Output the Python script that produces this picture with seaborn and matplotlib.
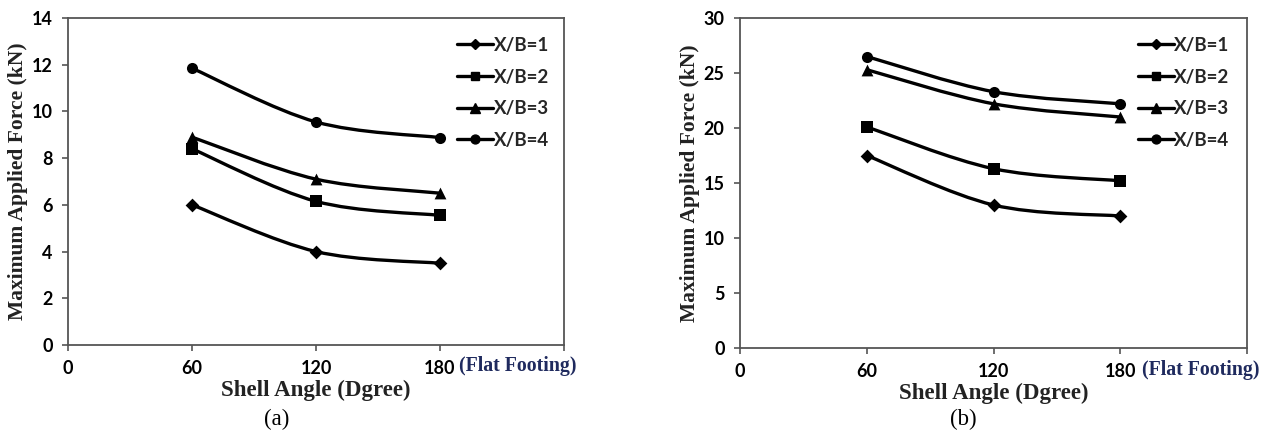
import numpy as np
import pandas as pd
import matplotlib
matplotlib.use("Agg")
import matplotlib.pyplot as plt
from matplotlib.path import Path
from matplotlib.patches import PathPatch
from matplotlib.lines import Line2D
import seaborn as sns

# ---- data ----
angles = [60, 120, 180]
series = ["X/B=1", "X/B=2", "X/B=3", "X/B=4"]
force_a_1 = [6.0, 4.0, 3.5]
force_a_2 = [8.4, 6.15, 5.55]
force_a_3 = [8.9, 7.1, 6.5]
force_a_4 = [11.85, 9.55, 8.88]
force_b_1 = [17.5, 13.0, 12.0]
force_b_2 = [20.1, 16.3, 15.2]
force_b_3 = [25.3, 22.2, 21.0]
force_b_4 = [26.5, 23.3, 22.2]
x_ticks = [0, 60, 120, 180, 240]
x_tick_labels = ["0", "60", "120", "180", ""]
y_ticks_a = [0, 2, 4, 6, 8, 10, 12, 14]
y_ticks_b = [0, 5, 10, 15, 20, 25, 30]
panel_labels = ["(a)", "(b)"]

markers = {"X/B=1": "D", "X/B=2": "s", "X/B=3": "^", "X/B=4": "o"}
msizes = {"X/B=1": 7, "X/B=2": 8, "X/B=3": 8.5, "X/B=4": 8}

sns.set_theme(style="white")
plt.rcParams['font.family'] = ['DejaVu Sans']

fig = plt.figure(figsize=(12.66, 4.33), dpi=100)
ax_a = fig.add_axes([68/1266, 1-345/433, (564-68)/1266, (345-18)/433])
ax_b = fig.add_axes([740/1266, 1-348/433, (1247-740)/1266, (348-18)/433])

def smooth_path(xs, ys):
    # Catmull-Rom style Bezier through the data points (like Excel smoothed line)
    xs = np.asarray(xs, float); ys = np.asarray(ys, float)
    n = len(xs)
    verts = [(xs[0], ys[0])]
    codes = [Path.MOVETO]
    for i in range(n - 1):
        p0 = (xs[max(i-1, 0)], ys[max(i-1, 0)])
        p1 = (xs[i], ys[i]); p2 = (xs[i+1], ys[i+1])
        p3 = (xs[min(i+2, n-1)], ys[min(i+2, n-1)])
        c1 = (p1[0] + (p2[0]-p0[0])/6, p1[1] + (p2[1]-p0[1])/6)
        c2 = (p2[0] - (p3[0]-p1[0])/6, p2[1] - (p3[1]-p1[1])/6)
        verts += [c1, c2, p2]
        codes += [Path.CURVE4]*3
    return Path(verts, codes)

def draw(ax, vals, yticks, ymax, label, ff_x, lab_x):
    df = pd.DataFrame({
        "angle": angles * 4,
        "force": sum(vals, []),
        "series": sum([[s]*3 for s in series], []),
    })
    for s, v in zip(series, vals):
        ax.add_patch(PathPatch(smooth_path(angles, v), fill=False, lw=2.4,
                               edgecolor="black", zorder=2))
    for s in series:
        sub = df[df.series == s]
        sns.scatterplot(data=sub, x="angle", y="force", ax=ax, marker=markers[s],
                        s=msizes[s]**2, color="black", edgecolor="black",
                        linewidth=0, zorder=3, legend=False)
    handles = [Line2D([0], [0], color="black", lw=2.4, marker=markers[s],
                      markersize=msizes[s]*0.8) for s in series]
    ax.legend(handles, series, loc="upper left", bbox_to_anchor=(0.77, 0.965),
              frameon=False, handlelength=1.9, handletextpad=0.05,
              labelspacing=0.78, borderaxespad=0,
              prop={"family": "Lato", "weight": "bold", "size": 13.5})
    ax.set_xlim(0, 240)
    ax.set_ylim(0, ymax)
    ax.set_xticks(x_ticks)
    ax.set_xticklabels(x_tick_labels)
    ax.set_yticks(yticks)
    for t in ax.get_xticklabels() + ax.get_yticklabels():
        t.set_fontfamily("Lato"); t.set_fontweight("bold"); t.set_fontsize(13)
        t.set_color("black")
    ax.tick_params(axis="both", direction="out", length=4, width=1.2,
                   color="#555555", bottom=True, left=True, pad=7)
    for sp in ax.spines.values():
        sp.set_color("#555555"); sp.set_linewidth(1.3); sp.set_visible(True)
    ax.set_xlabel("Shell Angle (Dgree)", family="Liberation Serif", weight="bold",
                  fontsize=16.5, color="#222222", labelpad=2)
    ax.set_ylabel("Maximum Applied Force (kN)", family="Liberation Serif",
                  weight="bold", fontsize=15.5, color="#222222", labelpad=3)
    ax.text(ff_x, -0.035, "(Flat Footing)", transform=ax.transAxes, ha="left",
            va="top", family="Liberation Serif", weight="bold", fontsize=14.3,
            color="#1F2A5E")
    fig.text(lab_x, 1 - 419/433, label, ha="center", va="center",
             family="Liberation Serif", fontsize=16.5, color="black")

draw(ax_a, [force_a_1, force_a_2, force_a_3, force_a_4], y_ticks_a, 14, panel_labels[0], 0.788, 277/1266)
draw(ax_b, [force_b_1, force_b_2, force_b_3, force_b_4], y_ticks_b, 30, panel_labels[1], 0.793, 963/1266)

fig.savefig("out.png", dpi=100, facecolor="white")
